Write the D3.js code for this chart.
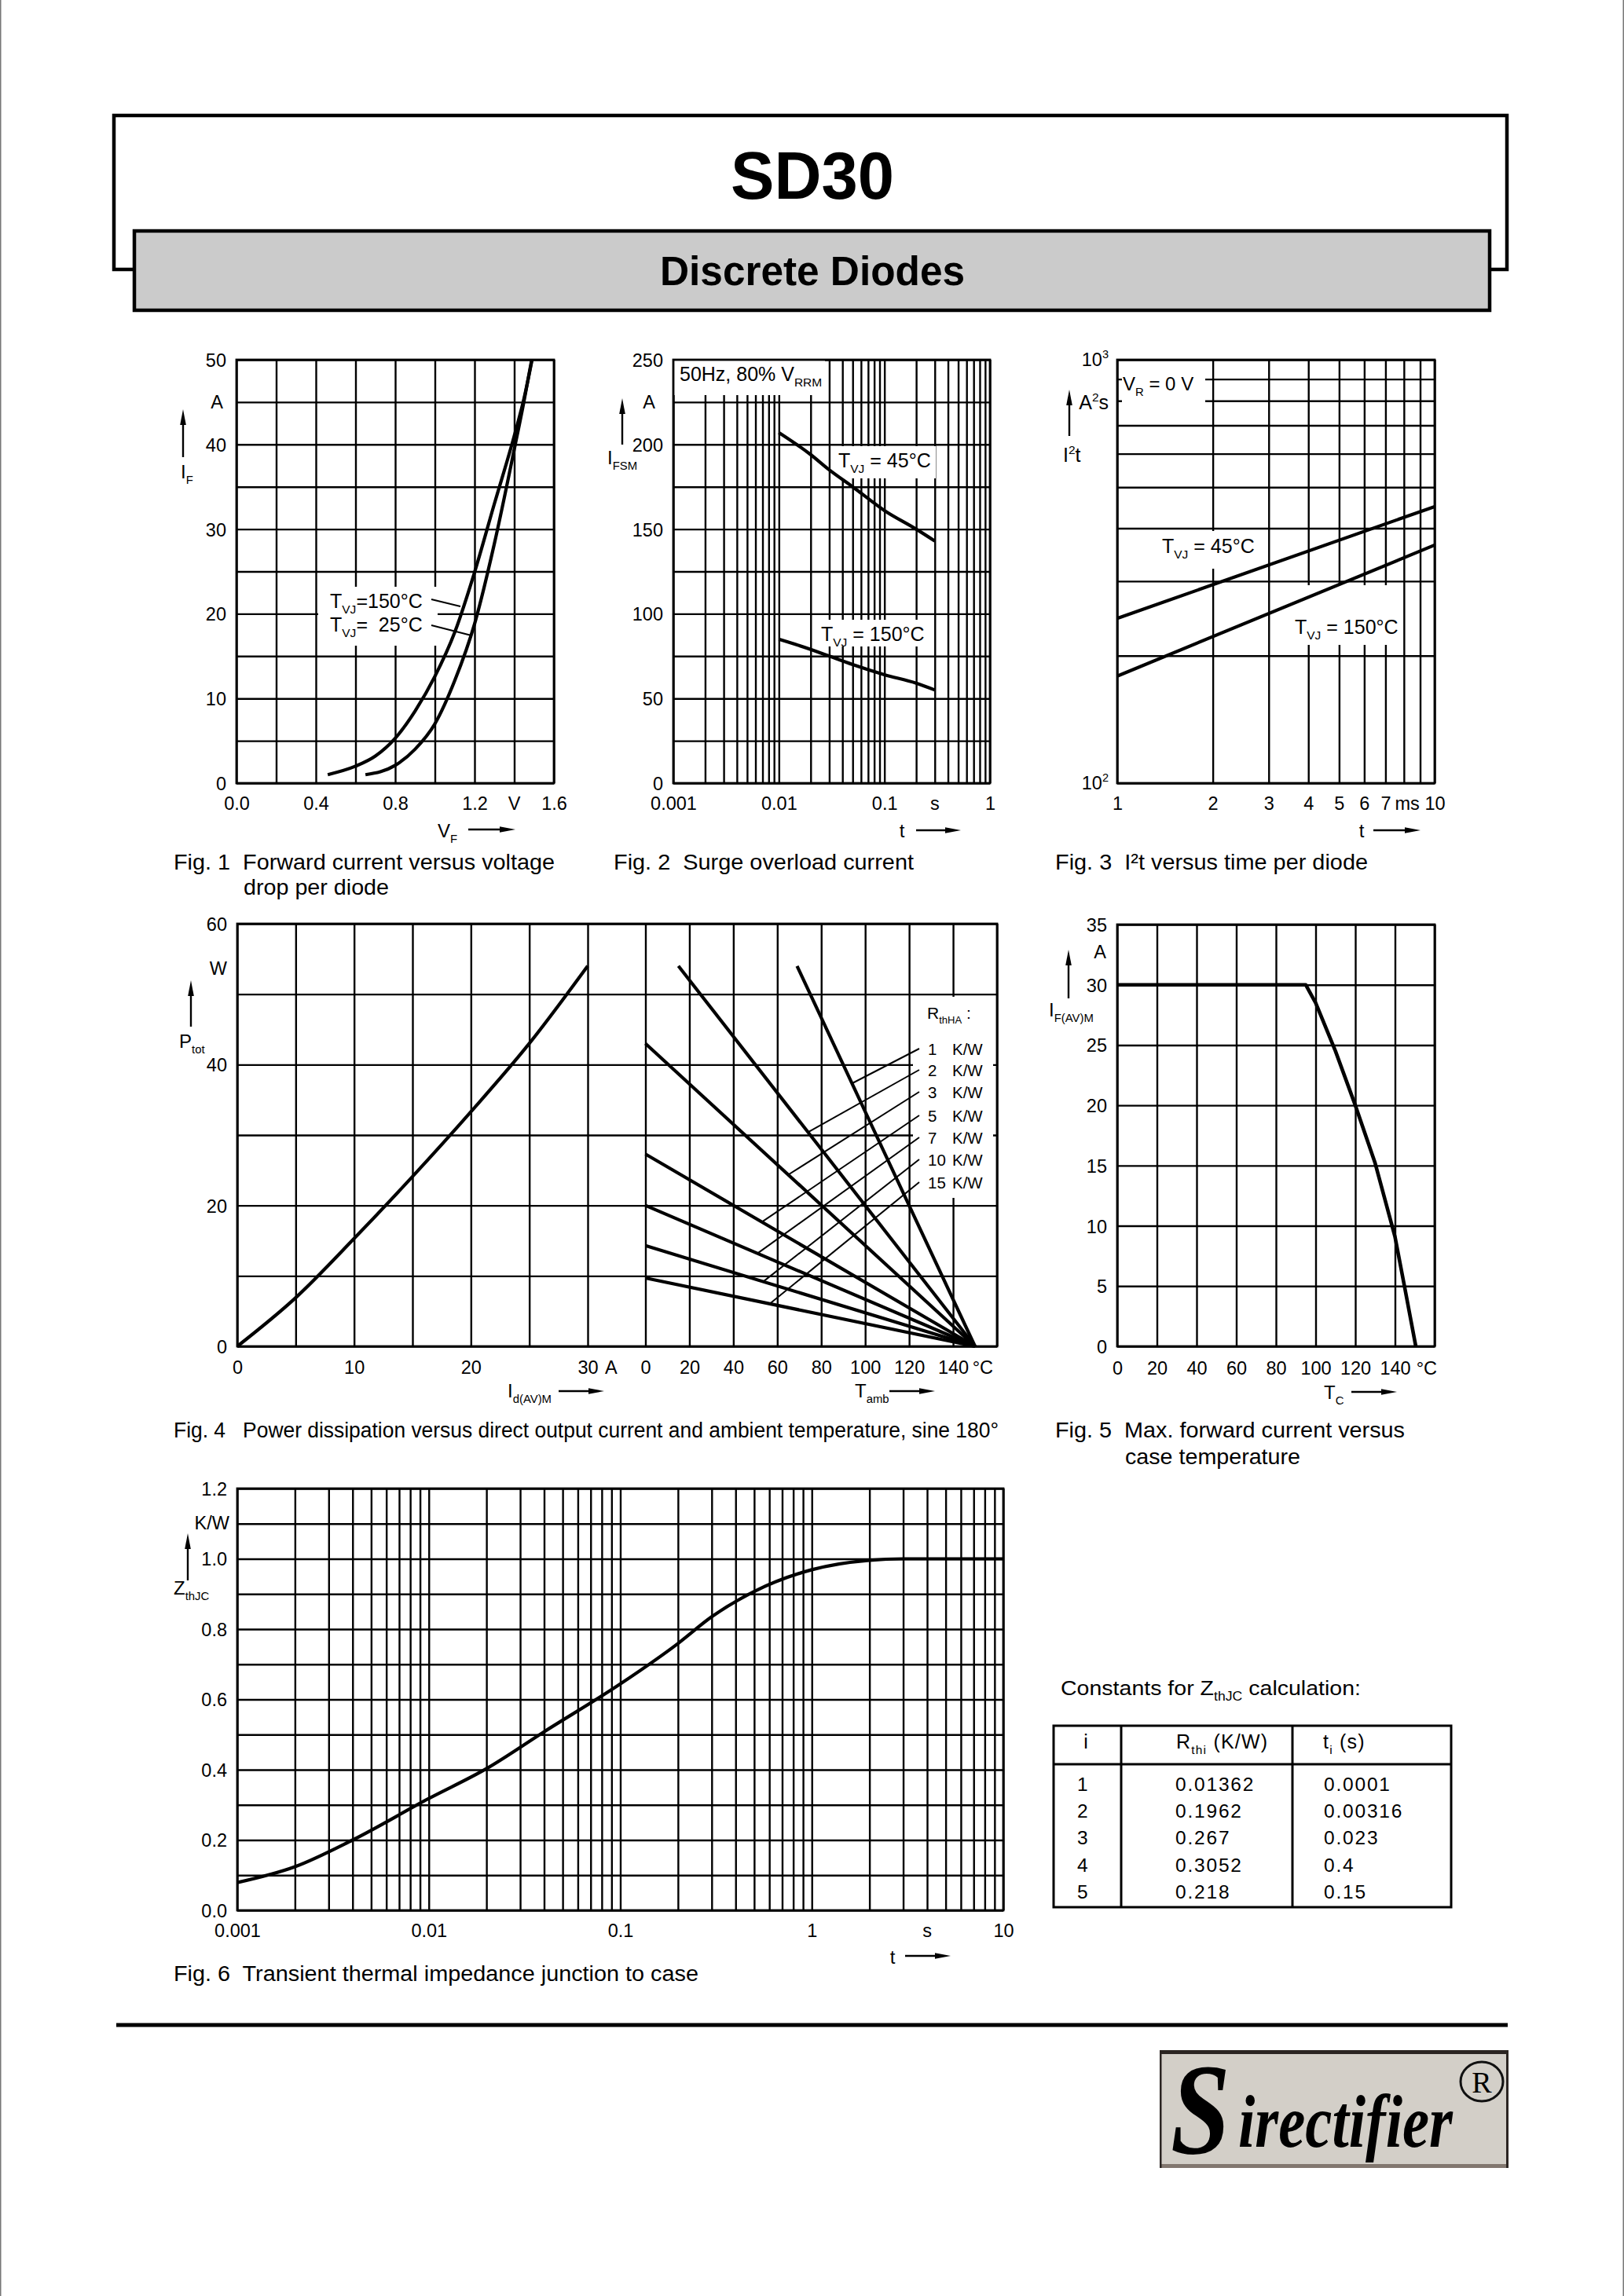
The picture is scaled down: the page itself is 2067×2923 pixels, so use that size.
<!DOCTYPE html>
<html><head><meta charset="utf-8">
<script src="https://cdn.jsdelivr.net/npm/d3@7"></script>
<style>html,body{margin:0;padding:0;background:#fff;} svg{display:block;} text{white-space:pre;}</style>
</head><body><svg id="page" width="2067" height="2923"></svg>
<script>
// ================= DATA =================
// Fig 1: forward current vs voltage
const fig1Volt150 = [0.46, 0.6, 0.7, 0.8, 0.9, 1.0, 1.1, 1.2, 1.3, 1.4, 1.45, 1.49];
const fig1Amp150  = [1.0, 2.0, 3.2, 5.3, 8.5, 12.6, 17.8, 24.9, 33.0, 41.0, 45.5, 50.0];
const fig1Volt25  = [0.65, 0.8, 0.9, 1.0, 1.1, 1.2, 1.3, 1.4, 1.45, 1.488];
const fig1Amp25   = [1.0, 2.1, 4.0, 7.0, 12.1, 18.8, 28.3, 39.4, 45.2, 50.0];
const fig1XTicks = [0, 0.4, 0.8, 1.2, 1.6];
const fig1YTicks = [0, 10, 20, 30, 40, 50];
// Fig 2: surge overload current
const fig2Time   = [0.01, 0.02, 0.03, 0.05, 0.1, 0.2, 0.3];
const fig2Amp45  = [207, 194, 185, 175, 161, 150, 143];
const fig2Amp150 = [85, 79, 75, 70, 64, 59, 55];
const fig2XTicks = [0.001, 0.01, 0.1, 1];
const fig2YTicks = [0, 50, 100, 150, 200, 250];
// Fig 3: I2t vs time
const fig3Time   = [1, 10];
const fig3I2t45  = [245, 450];
const fig3I2t150 = [179, 365];
const fig3XTicks = [1, 2, 3, 4, 5, 6, 7, 10];
// Fig 4: power dissipation
const fig4Current = [0, 5, 10, 15, 20, 25, 30];
const fig4Power   = [0, 6.9, 15.3, 24.1, 33.3, 43, 54];
const fig4Rth        = ["1", "2", "3", "5", "7", "10", "15"];
const fig4StartTemp  = [69, 15, 0, 0, 0, 0, 0];
const fig4StartPower = [54, 54, 43, 27.3, 20, 14.3, 9.7];
const fig4EndTemp    = 150;
const fig4LeaderTemp = [94, 74, 65, 53, 51, 53.6, 56.6];
const fig4CurrentTicks = [0, 10, 20, 30];
const fig4TempTicks = [0, 20, 40, 60, 80, 100, 120, 140];
const fig4PowerTicks = [0, 20, 40, 60];
// Fig 5: max forward current vs case temperature
const fig5Temp    = [0, 95, 100, 110, 120, 130, 140, 145, 150.5];
const fig5Current = [30, 30, 28.5, 24.5, 20, 15.2, 9.1, 4.8, 0];
const fig5XTicks = [0, 20, 40, 60, 80, 100, 120, 140];
const fig5YTicks = [0, 5, 10, 15, 20, 25, 30, 35];
// Fig 6: transient thermal impedance
const fig6Time = [0.001, 0.002, 0.004, 0.01, 0.02, 0.04, 0.1, 0.2, 0.3, 0.5, 1, 2, 3, 10];
const fig6Zth  = [0.079, 0.124, 0.2, 0.318, 0.403, 0.508, 0.644, 0.759, 0.835, 0.907, 0.969, 0.996, 1.0, 1.0];
const fig6XTicks = [0.001, 0.01, 0.1, 1, 10];
const fig6YTicks = [0, 0.2, 0.4, 0.6, 0.8, 1.0, 1.2];
// Table of constants
const tableIndex = ["1", "2", "3", "4", "5"];
const tableRthi  = ["0.01362", "0.1962", "0.267", "0.3052", "0.218"];
const tableTi    = ["0.0001", "0.00316", "0.023", "0.4", "0.15"];

// ================= HELPERS =================
const FONT = "'Liberation Sans', Arial, Helvetica, sans-serif";
const SERIF = "'Liberation Serif', 'Times New Roman', serif";
const svg = d3.select("#page");
svg.append("rect").attr("width", 2067).attr("height", 2923).attr("fill", "#fff");
const GRID = 2.4, BORDER = 2.8, CURVE = 4.2, TICKFS = 23.5;

function rich(g, x, y, parts, o = {}) {
  const fs = o.size || 24;
  const t = g.append("text").attr("x", x).attr("y", y)
    .attr("font-family", o.family || FONT).attr("font-size", fs)
    .attr("text-anchor", o.anchor || "start").attr("fill", "#000");
  if (o.weight) t.attr("font-weight", o.weight);
  if (o.style) t.attr("font-style", o.style);
  if (o.ls) t.attr("letter-spacing", o.ls);
  if (o.length) t.attr("textLength", o.length).attr("lengthAdjust", "spacingAndGlyphs");
  let shift = 0;
  parts.forEach(p => {
    if (typeof p === "string") { t.append("tspan").attr("dy", -shift).text(p); shift = 0; }
    else if (p.sub !== undefined) { const d = fs * 0.28; t.append("tspan").attr("font-size", fs * 0.62).attr("dy", d - shift).text(p.sub); shift = d; }
    else if (p.sup !== undefined) { const d = -fs * 0.42; t.append("tspan").attr("font-size", fs * 0.62).attr("dy", d - shift).text(p.sup); shift = d; }
  });
  return t;
}
function arrow(g, x1, y1, x2, y2, o = {}) {
  const len = o.len || 20, hw = o.hw || 3.8, sw = o.sw || 2.4;
  const dx = x2 - x1, dy = y2 - y1, L = Math.hypot(dx, dy), ux = dx / L, uy = dy / L;
  const bx = x2 - ux * len, by = y2 - uy * len;
  g.append("line").attr("x1", x1).attr("y1", y1).attr("x2", bx + ux * 3).attr("y2", by + uy * 3)
    .attr("stroke", "#000").attr("stroke-width", sw);
  g.append("path").attr("d", `M${x2},${y2}L${bx - uy * hw},${by + ux * hw}L${bx + uy * hw},${by - ux * hw}Z`).attr("fill", "#000");
}
function vGrid(g, scale, values, yTop, yBot, sw = GRID) {
  const a = d3.axisBottom(scale).tickValues(values).tickSize(-(yBot - yTop)).tickFormat("");
  const gg = g.append("g").attr("transform", `translate(0,${yBot})`).call(a);
  gg.select(".domain").remove();
  gg.selectAll(".tick text").remove();
  gg.selectAll(".tick line").attr("stroke", "#000").attr("stroke-width", sw);
}
function hGrid(g, scale, values, xL, xR, sw = GRID) {
  const a = d3.axisLeft(scale).tickValues(values).tickSize(-(xR - xL)).tickFormat("");
  const gg = g.append("g").attr("transform", `translate(${xL},0)`).call(a);
  gg.select(".domain").remove();
  gg.selectAll(".tick text").remove();
  gg.selectAll(".tick line").attr("stroke", "#000").attr("stroke-width", sw);
}
function bottomLabels(g, scale, values, fmt, y, fs = TICKFS) {
  const a = d3.axisBottom(scale).tickValues(values).tickFormat(fmt).tickSize(0).tickPadding(0);
  const gg = g.append("g").attr("transform", `translate(0,${y})`).call(a);
  gg.select(".domain").remove();
  gg.selectAll(".tick line").remove();
  gg.attr("font-family", FONT).attr("font-size", fs);
  gg.selectAll("text").attr("y", 0).attr("dy", null).attr("fill", "#000");
  return gg;
}
function leftLabels(g, scale, values, fmt, x, fs = TICKFS) {
  const a = d3.axisLeft(scale).tickValues(values).tickFormat(fmt).tickSize(0).tickPadding(0);
  const gg = g.append("g").attr("transform", `translate(${x},0)`).call(a);
  gg.select(".domain").remove();
  gg.selectAll(".tick line").remove();
  gg.attr("font-family", FONT).attr("font-size", fs);
  gg.selectAll("text").attr("x", 0).attr("dy", "0.36em").attr("fill", "#000");
  return gg;
}
function whiteBox(g, x0, y0, x1, y1) {
  g.append("rect").attr("x", x0).attr("y", y0).attr("width", x1 - x0).attr("height", y1 - y0).attr("fill", "#fff");
}
function border(g, x0, y0, x1, y1) {
  g.append("rect").attr("x", x0).attr("y", y0).attr("width", x1 - x0).attr("height", y1 - y0)
    .attr("fill", "none").attr("stroke", "#000").attr("stroke-width", BORDER);
}
function curve(g, xs, ys, sx, sy, type = d3.curveMonotoneX, sw = CURVE) {
  const pts = xs.map((x, i) => [sx(x), sy(ys[i])]);
  g.append("path").attr("d", d3.line().curve(type)(pts)).attr("fill", "none")
    .attr("stroke", "#000").attr("stroke-width", sw).attr("stroke-linejoin", "round");
}
function seg(g, x1, y1, x2, y2, sw = 2) {
  g.append("line").attr("x1", x1).attr("y1", y1).attr("x2", x2).attr("y2", y2).attr("stroke", "#000").attr("stroke-width", sw);
}

// ================= PAGE FRAME =================
const page = svg.append("g");
page.append("line").attr("x1", 0.75).attr("y1", 0).attr("x2", 0.75).attr("y2", 2923).attr("stroke", "#777").attr("stroke-width", 1.5);
page.append("line").attr("x1", 2066.25).attr("y1", 0).attr("x2", 2066.25).attr("y2", 2923).attr("stroke", "#777").attr("stroke-width", 1.5);
page.append("rect").attr("x", 145).attr("y", 147).attr("width", 1773).attr("height", 196).attr("fill", "#fff").attr("stroke", "#000").attr("stroke-width", 4.5);
page.append("rect").attr("x", 171).attr("y", 294).attr("width", 1725).attr("height", 101).attr("fill", "#cbcbcb").attr("stroke", "#000").attr("stroke-width", 4.5);
rich(page, 1034, 253, ["SD30"], { size: 86, weight: "bold", anchor: "middle", length: 208 });
rich(page, 1034, 363, ["Discrete Diodes"], { size: 51, weight: "bold", anchor: "middle", length: 388 });

// ================= FIG 1 =================
{
  const g = svg.append("g");
  const x = d3.scaleLinear([0, 1.6], [301, 705]), y = d3.scaleLinear([0, 50], [997, 458]);
  vGrid(g, x, d3.range(0, 1.61, 0.2), 458, 997);
  hGrid(g, y, d3.range(0, 51, 5), 301, 705);
  whiteBox(g, 405, 747, 557, 822);
  border(g, 301, 458, 705, 997);
  curve(g, fig1Volt150, fig1Amp150, x, y);
  curve(g, fig1Volt25, fig1Amp25, x, y);
  bottomLabels(g, x, fig1XTicks, d => d.toFixed(1), 1031);
  rich(g, x(1.4), 1031, ["V"], { size: TICKFS, anchor: "middle" });
  leftLabels(g, y, fig1YTicks, d => String(d), 288);
  rich(g, 276, 520, ["A"], { size: TICKFS, anchor: "middle" });
  arrow(g, 233, 582, 233, 521);
  rich(g, 230, 609, ["I", { sub: "F" }], { size: 24 });
  rich(g, 557, 1066, ["V", { sub: "F" }], { size: 24 });
  arrow(g, 596, 1056, 656, 1056);
  rich(g, 420, 774, ["T", { sub: "VJ" }, "=150°C"], { size: 25 });
  rich(g, 420, 804, ["T", { sub: "VJ" }, "=\u00A0 25°C"], { size: 25 });
  seg(g, 549, 763, 586, 772);
  seg(g, 549, 796, 600, 809);
  rich(g, 221, 1107, ["Fig. 1  Forward current versus voltage"], { size: 28.5, length: 485 });
  rich(g, 310, 1139, ["drop per diode"], { size: 28.5, length: 185 });
}

// ================= FIG 2 =================
{
  const g = svg.append("g");
  const x = d3.scaleLog([0.001, 1], [857, 1260]), y = d3.scaleLinear([0, 250], [997, 458]);
  vGrid(g, x, x.ticks(), 458, 997);
  hGrid(g, y, d3.range(0, 251, 25), 857, 1260);
  whiteBox(g, 857, 458, 1050, 503);
  whiteBox(g, 1060, 568, 1191, 609);
  whiteBox(g, 1040, 789, 1181, 823);
  border(g, 857, 458, 1260, 997);
  curve(g, fig2Time, fig2Amp45, x, y);
  curve(g, fig2Time, fig2Amp150, x, y);
  bottomLabels(g, x, fig2XTicks, d => String(d), 1031);
  rich(g, x(0.3), 1031, ["s"], { size: TICKFS, anchor: "middle" });
  leftLabels(g, y, fig2YTicks, d => String(d), 844);
  rich(g, 826, 520, ["A"], { size: TICKFS, anchor: "middle" });
  arrow(g, 792, 566, 792, 507);
  rich(g, 773, 591, ["I", { sub: "FSM" }], { size: 24 });
  rich(g, 1148, 1066, ["t"], { size: 24, anchor: "middle" });
  arrow(g, 1166, 1057, 1223, 1057);
  rich(g, 865, 485, ["50Hz, 80% V", { sub: "RRM" }], { size: 25 });
  rich(g, 1067, 595, ["T", { sub: "VJ" }, " = 45°C"], { size: 25 });
  rich(g, 1045, 816, ["T", { sub: "VJ" }, " = 150°C"], { size: 25 });
  rich(g, 781, 1107, ["Fig. 2  Surge overload current"], { size: 28.5, length: 382 });
}

// ================= FIG 3 =================
{
  const g = svg.append("g");
  const x = d3.scaleLog([1, 10], [1422, 1826]), y = d3.scaleLog([100, 1000], [997, 458]);
  vGrid(g, x, x.ticks(), 458, 997);
  hGrid(g, y, y.ticks(), 1422, 1826);
  whiteBox(g, 1428, 461, 1534, 516);
  whiteBox(g, 1476, 676, 1601, 724);
  whiteBox(g, 1642, 745, 1780, 821);
  border(g, 1422, 458, 1826, 997);
  curve(g, fig3Time, fig3I2t45, x, y, d3.curveLinear);
  curve(g, fig3Time, fig3I2t150, x, y, d3.curveLinear);
  bottomLabels(g, x, fig3XTicks, d => String(d), 1031);
  rich(g, x(8.2), 1031, ["ms"], { size: TICKFS, anchor: "middle" });
  rich(g, 1411, y(1000) + 8, ["10", { sup: "3" }], { size: TICKFS, anchor: "end" });
  rich(g, 1411, y(100) + 8, ["10", { sup: "2" }], { size: TICKFS, anchor: "end" });
  rich(g, 1411, 521, ["A", { sup: "2" }, "s"], { size: 25, anchor: "end" });
  arrow(g, 1361, 555, 1361, 496);
  rich(g, 1353, 588, ["I", { sup: "2" }, "t"], { size: 25 });
  rich(g, 1733, 1066, ["t"], { size: 24, anchor: "middle" });
  arrow(g, 1748, 1057, 1808, 1057);
  rich(g, 1429, 497, ["V", { sub: "R" }, " = 0 V"], { size: 24 });
  rich(g, 1479, 704, ["T", { sub: "VJ" }, " = 45°C"], { size: 25 });
  rich(g, 1648, 807, ["T", { sub: "VJ" }, " = 150°C"], { size: 25 });
  rich(g, 1343, 1107, ["Fig. 3  I²t versus time per diode"], { size: 28.5, length: 398 });
}

// ================= FIG 4 =================
{
  const g = svg.append("g");
  const xI = d3.scaleLinear([0, 30], [302, 748]);
  const xT = d3.scaleLinear([0, 160], [821.5, 1269]);
  const y = d3.scaleLinear([0, 60], [1714, 1176]);
  vGrid(g, xI, d3.range(0, 31, 5), 1176, 1714);
  vGrid(g, xT, d3.range(0, 161, 20), 1176, 1714);
  hGrid(g, y, d3.range(0, 61, 10), 302, 1269);
  whiteBox(g, 1162, 1269, 1264, 1525);
  border(g, 302, 1176, 1269, 1714);
  curve(g, fig4Current, fig4Power, xI, y);
  fig4Rth.forEach((r, i) => {
    curve(g, [fig4StartTemp[i], fig4EndTemp], [fig4StartPower[i], 0], xT, y, d3.curveLinear);
  });
  const rowBase = [1343, 1370, 1398, 1428, 1456, 1484, 1513];
  rich(g, 1180, 1297, ["R", { sub: "thHA" }, " :"], { size: 21 });
  fig4Rth.forEach((r, i) => {
    rich(g, 1181, rowBase[i], [r], { size: 20.5 });
    rich(g, 1212, rowBase[i], ["K/W"], { size: 20.5 });
    const tL = fig4LeaderTemp[i];
    const pL = fig4StartPower[i] * (fig4EndTemp - tL) / (fig4EndTemp - fig4StartTemp[i]);
    seg(g, 1170, rowBase[i] - 8, xT(tL), y(pL), 2);
  });
  bottomLabels(g, xI, fig4CurrentTicks, d => String(d), 1749);
  rich(g, xI(32), 1749, ["A"], { size: TICKFS, anchor: "middle" });
  bottomLabels(g, xT, fig4TempTicks, d => String(d), 1749);
  rich(g, xT(153.5), 1749, ["°C"], { size: TICKFS, anchor: "middle" });
  leftLabels(g, y, fig4PowerTicks, d => String(d), 289);
  rich(g, 289, 1241, ["W"], { size: TICKFS, anchor: "end" });
  arrow(g, 243, 1307, 243, 1248);
  rich(g, 228, 1334, ["P", { sub: "tot" }], { size: 24 });
  rich(g, 646, 1779, ["I", { sub: "d(AV)M" }], { size: 24 });
  arrow(g, 711, 1771, 769, 1771);
  rich(g, 1088, 1779, ["T", { sub: "amb" }], { size: 24 });
  arrow(g, 1132, 1771, 1190, 1771);
  rich(g, 221, 1829.5, ["Fig. 4   Power dissipation versus direct output current and ambient temperature, sine 180°"], { size: 27, length: 1050 });
}

// ================= FIG 5 =================
{
  const g = svg.append("g");
  const x = d3.scaleLinear([0, 160], [1422, 1826]), y = d3.scaleLinear([0, 35], [1714, 1177]);
  vGrid(g, x, d3.range(0, 161, 20), 1177, 1714);
  hGrid(g, y, d3.range(0, 36, 5), 1422, 1826);
  border(g, 1422, 1177, 1826, 1714);
  curve(g, fig5Temp, fig5Current, x, y, d3.curveLinear, 4.6);
  bottomLabels(g, x, fig5XTicks, d => String(d), 1750);
  rich(g, x(156), 1750, ["°C"], { size: TICKFS, anchor: "middle" });
  leftLabels(g, y, fig5YTicks, d => String(d), 1409);
  rich(g, 1400, 1220, ["A"], { size: TICKFS, anchor: "middle" });
  arrow(g, 1360, 1271, 1360, 1209);
  rich(g, 1335, 1294, ["I", { sub: "F(AV)M" }], { size: 24 });
  rich(g, 1685, 1781, ["T", { sub: "C" }], { size: 24 });
  arrow(g, 1720, 1772, 1778, 1772);
  rich(g, 1343, 1829.5, ["Fig. 5  Max. forward current versus"], { size: 28.5, length: 445 });
  rich(g, 1432, 1863.5, ["case temperature"], { size: 28.5, length: 223 });
}

// ================= FIG 6 =================
{
  const g = svg.append("g");
  const x = d3.scaleLog([0.001, 10], [302, 1277]), y = d3.scaleLinear([0, 1.2], [2432, 1895]);
  vGrid(g, x, x.ticks(), 1895, 2432);
  hGrid(g, y, d3.range(0, 12.5, 1).map(v => v / 10), 302, 1277);
  border(g, 302, 1895, 1277, 2432);
  curve(g, fig6Time, fig6Zth, x, y);
  bottomLabels(g, x, fig6XTicks, d => String(d), 2466);
  rich(g, x(4), 2466, ["s"], { size: TICKFS, anchor: "middle" });
  leftLabels(g, y, fig6YTicks, d => d.toFixed(1), 289);
  rich(g, 292, 1947, ["K/W"], { size: TICKFS, anchor: "end" });
  arrow(g, 239, 2012, 239, 1952);
  rich(g, 221, 2030, ["Z", { sub: "thJC" }], { size: 24 });
  rich(g, 1136, 2500, ["t"], { size: 24, anchor: "middle" });
  arrow(g, 1152, 2490, 1210, 2490);
  rich(g, 221, 2522, ["Fig. 6  Transient thermal impedance junction to case"], { size: 27, length: 668 });
}

// ================= TABLE =================
{
  const g = svg.append("g");
  rich(g, 1350, 2158, ["Constants for Z", { sub: "thJC" }, " calculation:"], { size: 26, length: 382 });
  g.append("rect").attr("x", 1341).attr("y", 2197).attr("width", 506).attr("height", 231)
    .attr("fill", "none").attr("stroke", "#000").attr("stroke-width", 3);
  seg(g, 1341, 2246, 1847, 2246, 3);
  seg(g, 1427, 2197, 1427, 2428, 3);
  seg(g, 1645, 2197, 1645, 2428, 3);
  rich(g, 1382, 2226, ["i"], { size: 25, anchor: "middle" });
  rich(g, 1497, 2226, ["R", { sub: "thi" }, " (K/W)"], { size: 25, ls: 1.2 });
  rich(g, 1684, 2226, ["t", { sub: "i" }, " (s)"], { size: 25, ls: 1.2 });
  const rowY = [2280, 2313.5, 2348, 2382.5, 2417];
  tableIndex.forEach((v, i) => {
    rich(g, 1371, rowY[i], [v], { size: 24.5, ls: 1.8 });
    rich(g, 1496, rowY[i], [tableRthi[i]], { size: 24.5, ls: 1.8 });
    rich(g, 1685, rowY[i], [tableTi[i]], { size: 24.5, ls: 1.8 });
  });
}

// ================= FOOTER / LOGO =================
{
  const g = svg.append("g");
  g.append("rect").attr("x", 148).attr("y", 2575.5).attr("width", 1771).attr("height", 5).attr("fill", "#000");
  g.append("rect").attr("x", 1476).attr("y", 2610).attr("width", 444).attr("height", 150).attr("fill", "#d3cfc8");
  g.append("rect").attr("x", 1476).attr("y", 2610).attr("width", 444).attr("height", 5).attr("fill", "#2b2522");
  g.append("rect").attr("x", 1476).attr("y", 2755).attr("width", 444).attr("height", 5).attr("fill", "#82776f");
  g.append("rect").attr("x", 1476).attr("y", 2610).attr("width", 2.5).attr("height", 150).attr("fill", "#2b2522");
  g.append("rect").attr("x", 1917).attr("y", 2610).attr("width", 3).attr("height", 150).attr("fill", "#2b2522");
  const sG = g.append("g").attr("transform", "translate(1490,2741) scale(0.82,1)");
  rich(sG, 0, 0, ["S"], { size: 166, family: SERIF, weight: "bold", style: "italic" });
  const iG = g.append("g").attr("transform", "translate(1576,2733) scale(0.8,1)");
  rich(iG, 0, 0, ["irectifier"], { size: 96, family: SERIF, weight: "bold", style: "italic" });
  g.append("ellipse").attr("cx", 1886).attr("cy", 2650).attr("rx", 27).attr("ry", 25).attr("fill", "none").attr("stroke", "#111").attr("stroke-width", 3);
  rich(g, 1886, 2664, ["R"], { size: 38, family: SERIF, anchor: "middle" });
}
</script>
</body></html>
